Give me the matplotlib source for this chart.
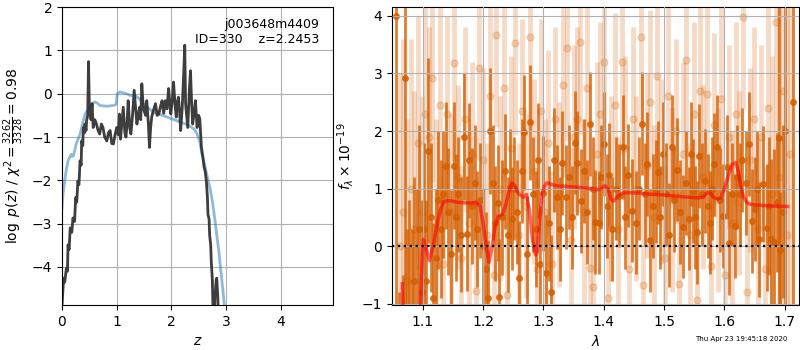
import numpy as np
import matplotlib
matplotlib.use('Agg')
import matplotlib.pyplot as plt

# ---- left panel: log p(z) ----
z_pz = [0.0, 0.02, 0.03, 0.05, 0.08, 0.10, 0.11, 0.13, 0.15, 0.18, 0.20, 0.23, 0.25, 0.27, 0.29, 0.31,
        0.33, 0.35, 0.36, 0.38, 0.39, 0.41, 0.42, 0.44, 0.45, 0.47, 0.485, 0.50, 0.51, 0.53, 0.55, 0.57,
        0.60, 0.63, 0.66, 0.69, 0.72, 0.75, 0.78, 0.82, 0.85, 0.88, 0.91, 0.94, 0.97, 1.00, 1.03, 1.05,
        1.07, 1.10, 1.12, 1.15, 1.17, 1.19, 1.21, 1.24, 1.26, 1.29, 1.32, 1.35, 1.37, 1.40, 1.42, 1.44,
        1.46, 1.48, 1.50, 1.53, 1.55, 1.58, 1.60, 1.62, 1.64, 1.68, 1.71, 1.74, 1.77, 1.80, 1.83, 1.86,
        1.89, 1.92, 1.95, 1.97, 1.99, 2.02, 2.04, 2.07, 2.09, 2.11, 2.13, 2.15, 2.17, 2.20, 2.23, 2.245,
        2.26, 2.28, 2.30, 2.33, 2.35, 2.37, 2.39, 2.42, 2.44, 2.46, 2.47, 2.50, 2.52, 2.54, 2.55, 2.58,
        2.60, 2.62, 2.64, 2.66, 2.67, 2.69, 2.70, 2.72, 2.73, 2.75, 2.76, 2.78, 2.80, 2.82, 2.83, 2.85, 2.86]
log_pz = [-4.9, -4.5, -4.26, -4.35, -4.03, -4.1, -3.49, -3.6, -3.1, -3.2, -2.87, -2.95, -2.4, -2.5, -2.02, -2.1,
          -1.55, -1.65, -1.09, -1.2, -0.78, -0.9, -0.7, -0.85, -0.62, -0.5, 0.74, -0.3, -0.39, -0.6, -0.23, -0.78,
          -0.6, -0.7, -0.85, -0.93, -0.7, -0.78, -1.0, -1.09, -0.9, -0.85, -1.15, -1.16, -0.95, -0.78, -0.95, -0.47,
          -1.05, -0.6, -0.31, -0.9, -1.0, -0.7, -0.16, -0.8, -0.93, -0.5, 0.08, -0.4, -0.7, -0.45, -0.31, -0.6,
          0.23, -0.2, -0.39, -0.5, -0.16, -0.7, -1.24, -0.8, -0.54, -0.35, -0.23, -0.5, -0.47, -0.3, -0.16, -0.45,
          -0.16, -0.35, 0.12, -0.2, -0.47, -0.1, 0.27, -0.3, -0.54, -0.2, -0.08, -0.4, -0.85, -0.3, 0.6, 1.12,
          -0.23, -0.5, -0.78, 0.1, 0.53, -0.2, -0.7, -0.4, -0.16, -0.6, -0.78, -0.5, -0.58, -1.0, -1.24, -1.5,
          -1.7, -1.8, -2.02, -2.4, -2.79, -2.9, -3.26, -3.5, -3.88, -4.3, -4.9, -5.2, -4.65, -4.3, -4.26, -4.7, -5.2]
z_prior = [0.0, 0.02, 0.05, 0.08, 0.11, 0.14, 0.17, 0.19, 0.21, 0.26, 0.33, 0.42, 0.51, 0.56, 0.60, 0.65,
           0.69, 0.75, 0.82, 0.88, 0.94, 0.99, 1.01, 1.03, 1.06, 1.12, 1.18, 1.25, 1.34, 1.40, 1.49, 1.58,
           1.67, 1.80, 1.92, 2.05, 2.17, 2.26, 2.35, 2.42, 2.47, 2.52, 2.56, 2.61, 2.66, 2.71, 2.75, 2.79,
           2.83, 2.87, 2.90, 2.94, 2.97, 3.0]
log_prior = [-2.64, -2.3, -2.0, -1.75, -1.55, -1.47, -1.4, -1.45, -1.43, -1.16, -0.93, -0.47, -0.31, -0.22, -0.19, -0.22,
             -0.27, -0.28, -0.29, -0.28, -0.27, -0.25, 0.0, 0.02, 0.04, 0.02, 0.0, -0.04, -0.04, -0.1, -0.23, -0.33,
             -0.43, -0.48, -0.54, -0.6, -0.66, -0.7, -0.76, -0.82, -0.93, -1.1, -1.4, -1.65, -1.94, -2.2, -2.48, -2.85,
             -3.26, -3.65, -4.03, -4.5, -4.9, -5.3]

# ---- right panel: spectrum ----
# binned
wave_b = [1.056, 1.060, 1.067, 1.070, 1.074, 1.078, 1.082, 1.086, 1.090, 1.094, 1.098, 1.102, 1.106, 1.109, 1.113,
          1.117, 1.122, 1.126, 1.130, 1.134, 1.138, 1.142, 1.146, 1.151, 1.155, 1.159, 1.164, 1.169, 1.174, 1.177, 1.181,
          1.186, 1.190, 1.195, 1.200, 1.204, 1.208, 1.212, 1.216, 1.220, 1.224, 1.227, 1.232, 1.236, 1.241, 1.245, 1.248,
          1.252, 1.256, 1.260, 1.264, 1.268, 1.273, 1.278, 1.282, 1.287, 1.291, 1.295, 1.300, 1.305, 1.309, 1.313, 1.318,
          1.323, 1.327, 1.331, 1.338, 1.343, 1.348, 1.352, 1.356, 1.362, 1.367, 1.372, 1.377, 1.382, 1.386, 1.392, 1.396,
          1.400, 1.405, 1.409, 1.414, 1.420, 1.425, 1.432, 1.436, 1.440, 1.447, 1.454, 1.459, 1.464, 1.468, 1.472, 1.477,
          1.482, 1.486, 1.490, 1.494, 1.498, 1.503, 1.508, 1.513, 1.517, 1.521, 1.526, 1.531, 1.536, 1.541, 1.545, 1.548,
          1.552, 1.555, 1.558, 1.563, 1.568, 1.572, 1.576, 1.580, 1.583, 1.587, 1.592, 1.598, 1.604, 1.607, 1.612, 1.617,
          1.621, 1.626, 1.630, 1.635, 1.640, 1.645, 1.650, 1.654, 1.658, 1.664, 1.670, 1.674, 1.678, 1.683, 1.687, 1.690,
          1.692, 1.697, 1.701, 1.714]
flux_b = [4.0, -2.5, -3.0, 2.92, -1.5, -1.2, -2.0, -0.6, -1.2, 0.3, -0.8, 0.3, -0.6, 1.66, 0.5,
          -0.9, -0.2, 0.8, 0.3, 0.9, 1.4, 0.6, -0.13, 1.4, 0.5, 0.9, 0.2, 1.9, 0.22, 1.49, 0.7,
          1.1, 0.3, 0.8, 0.0, -0.4, -0.9, 2.0, 1.1, 0.4, 0.75, -0.88, 0.5, 1.3, 0.2, 1.03, 0.48,
          1.0, 0.6, -0.56, 1.3, 1.98, -0.13, 2.15, 0.9, 0.3, 1.49, -0.3, 0.92, -0.46, 0.4, -0.8, 1.5,
          0.85, 0.3, 1.45, 0.85, 1.2, 0.5, 1.8, 1.45, 0.78, 1.3, 0.6, 2.12, 1.0, 0.42, 0.41, 1.2,
          1.78, 0.7, 1.24, 0.3, 1.0, 0.88, 1.72, 0.5, 1.23, 0.62, 0.41, 1.0, 2.13, 0.9, 1.43, 0.1,
          0.7, 0.95, 1.28, 0.5, 1.6, 0.9, 0.2, 1.72, 0.8, 1.33, 0.6, 0.34, 1.1, 0.48, 1.6, 0.96,
          0.5, 0.24, 1.57, 0.9, 1.13, 0.7, 0.41, 1.0, 1.42, 1.72, 0.8, 0.52, 1.38, 0.06, 0.9, 0.35,
          1.2, 0.9, 1.5, 1.1, 1.78, 0.44, 0.65, 1.0, 0.12, 1.08, 0.32, 0.7, 0.12, 0.08, 0.76, 1.87,
          -0.06, 0.6, 2.0, 2.5]
err_b = [6.0, 1.7, 2.5, 6.0, 1.8, 2.0, 2.3, 1.8, 2.2, 1.8, 1.6, 1.5, 1.4, 1.6, 1.3,
         1.3, 1.2, 1.2, 1.2, 1.1, 1.1, 1.1, 1.1, 1.1, 1.1, 1.0, 1.0, 1.1, 1.0, 1.0, 1.0,
         1.0, 1.0, 1.0, 1.0, 1.0, 1.0, 1.1, 1.0, 1.0, 1.0, 1.0, 1.0, 1.0, 1.0, 1.0, 0.9,
         0.9, 0.9, 1.0, 0.9, 1.0, 1.0, 1.0, 1.0, 1.0, 1.0, 1.0, 1.0, 1.0, 1.0, 1.0, 0.9,
         0.9, 0.9, 0.9, 0.9, 0.9, 0.9, 0.9, 0.9, 0.9, 0.9, 0.9, 0.9, 0.9, 0.9, 0.9, 0.9,
         0.9, 0.9, 0.9, 0.9, 0.9, 0.9, 0.9, 0.9, 0.9, 0.9, 0.9, 0.9, 0.9, 0.9, 0.9, 0.9,
         0.9, 0.9, 0.9, 0.9, 0.9, 0.9, 0.9, 0.9, 0.9, 0.9, 0.9, 0.9, 0.9, 0.9, 0.9, 0.9,
         0.9, 0.9, 0.9, 0.9, 0.9, 0.9, 0.9, 0.9, 0.9, 0.9, 0.9, 0.9, 0.9, 0.9, 0.9, 0.9,
         0.9, 0.9, 0.9, 0.9, 0.9, 0.9, 0.9, 1.0, 1.0, 1.0, 1.1, 1.2, 1.4, 1.6, 1.2, 6.0,
         1.0, 1.5, 6.0, 6.0]
# unbinned
wave_u = [1.062, 1.068, 1.074, 1.080, 1.086, 1.092, 1.098, 1.104, 1.110, 1.116, 1.122, 1.128, 1.134, 1.140, 1.146, 1.152,
          1.158, 1.164, 1.170, 1.176, 1.182, 1.188, 1.194, 1.200, 1.206, 1.212, 1.218, 1.222, 1.228, 1.234, 1.240, 1.246,
          1.253, 1.259, 1.265, 1.271, 1.278, 1.284, 1.290, 1.296, 1.302, 1.308, 1.314, 1.320, 1.326, 1.332, 1.339, 1.345,
          1.350, 1.355, 1.361, 1.367, 1.373, 1.378, 1.382, 1.388, 1.394, 1.400, 1.407, 1.412, 1.418, 1.424, 1.430, 1.436,
          1.442, 1.448, 1.454, 1.462, 1.465, 1.471, 1.477, 1.483, 1.489, 1.495, 1.501, 1.507, 1.513, 1.519, 1.525, 1.531,
          1.537, 1.543, 1.549, 1.555, 1.559, 1.565, 1.571, 1.577, 1.583, 1.589, 1.595, 1.601, 1.607, 1.613, 1.619, 1.625,
          1.631, 1.637, 1.643, 1.649, 1.655, 1.661, 1.667, 1.673, 1.679, 1.685, 1.691, 1.697, 1.703, 1.709]
flux_u = [0.0, 0.6, -0.6, 1.0, 0.3, 1.8, 0.6, 2.3, 1.9, 2.92, 0.4, 2.45, -0.3, 2.3, 0.6, 3.18,
          1.2, -0.2, 2.2, 0.4, 1.6, -0.78, 3.1, 1.5, 0.2, 2.6, -0.5, 3.67, 1.0, 2.75, -0.85, 1.7,
          3.53, 0.2, 2.35, 0.7, 3.63, 1.3, -0.4, 2.35, 0.6, 1.8, -0.3, 2.2, 0.9, 2.8, 3.44, 0.1,
          1.9, 2.2, 3.55, 0.6, 2.75, -0.38, -0.7, 1.6, 2.3, 3.2, -0.9, 1.0, 2.45, 0.3, 3.2, 1.7,
          -0.4, 2.2, 1.0, 3.64, -0.68, 1.4, 2.5, 0.5, 2.95, 1.3, -0.2, 2.6, 0.8, 2.0, -0.66, 1.6,
          3.23, 0.2, 2.3, -0.94, 2.7, 1.2, 2.65, -0.35, 2.1, 0.8, 2.55, -0.5, 1.9, 0.4, 2.3, 1.1,
          3.98, -0.8, 1.5, 2.2, 0.3, 1.9, -0.4, 2.4, 0.9, 3.9, 1.2, 2.7, 0.2, 1.6]
err_u = [3.0, 3.0, 2.8, 2.6, 2.4, 2.2, 2.0, 2.0, 1.9, 1.8, 1.8, 1.7, 1.7, 1.7, 1.7, 1.7,
         1.6, 1.6, 1.6, 1.6, 1.6, 1.6, 1.6, 1.6, 1.6, 1.6, 1.6, 1.6, 1.6, 1.6, 1.6, 1.6,
         1.6, 1.6, 1.6, 1.6, 1.6, 1.6, 1.6, 1.6, 1.6, 1.6, 1.6, 1.6, 1.6, 1.6, 1.6, 1.6,
         1.6, 1.6, 1.6, 1.6, 1.6, 1.6, 1.6, 1.6, 1.6, 1.6, 1.6, 1.6, 1.6, 1.6, 1.6, 1.6,
         1.6, 1.6, 1.6, 1.6, 1.6, 1.6, 1.6, 1.6, 1.6, 1.6, 1.6, 1.6, 1.6, 1.6, 1.6, 1.6,
         1.6, 1.6, 1.6, 1.6, 1.6, 1.6, 1.6, 1.6, 1.6, 1.6, 1.6, 1.6, 1.6, 1.6, 1.6, 1.6,
         1.6, 1.6, 1.6, 1.6, 1.6, 1.6, 1.8, 2.0, 2.4, 3.0, 3.5, 4.0, 4.5, 5.0]
# model
wave_m = [1.066, 1.068, 1.070, 1.092, 1.095, 1.098, 1.101, 1.106, 1.111, 1.118, 1.125, 1.130, 1.135, 1.145, 1.160, 1.175,
          1.188, 1.195, 1.200, 1.205, 1.210, 1.215, 1.220, 1.225, 1.232, 1.237, 1.243, 1.248, 1.253, 1.258, 1.263, 1.267,
          1.272, 1.277, 1.282, 1.287, 1.290, 1.294, 1.298, 1.302, 1.306, 1.312, 1.320, 1.335, 1.350, 1.370, 1.390, 1.396,
          1.402, 1.407, 1.412, 1.416, 1.422, 1.430, 1.440, 1.460, 1.480, 1.500, 1.520, 1.540, 1.555, 1.565, 1.572, 1.577,
          1.582, 1.588, 1.594, 1.600, 1.607, 1.613, 1.619, 1.623, 1.627, 1.632, 1.637, 1.642, 1.650, 1.660, 1.675, 1.690, 1.705]
flux_m = [-0.65, -1.6, -3.0, -3.0, -1.4, -0.5, 0.12, -0.05, -0.25, 0.05, 0.45, 0.65, 0.78, 0.79, 0.76, 0.75,
          0.76, 0.7, 0.4, 0.0, -0.28, 0.0, 0.35, 0.52, 0.55, 0.7, 0.95, 1.1, 1.05, 0.92, 0.88, 0.85,
          0.9, 0.6, 0.1, -0.15, -0.1, 0.5, 0.9, 1.05, 1.1, 1.08, 1.05, 1.04, 1.03, 1.01, 0.98, 1.0,
          1.05, 1.0, 0.82, 0.78, 0.85, 0.92, 0.93, 0.92, 0.9, 0.89, 0.87, 0.85, 0.84, 0.85, 0.93, 0.92,
          0.85, 0.82, 0.84, 1.0, 1.25, 1.42, 1.45, 1.3, 1.05, 0.85, 0.76, 0.73, 0.72, 0.71, 0.7, 0.69, 0.69]

orange = (0.835, 0.369, 0.0)

fig = plt.figure(figsize=(8, 3.5), dpi=100)

ax1 = fig.add_axes([0.0775, 0.1286, 0.339, 0.851])
ax1.plot(z_prior, log_prior, color='tab:blue', alpha=0.5, lw=2)
ax1.plot(z_pz, log_pz, color='0.2', alpha=0.95, lw=2)
ax1.set_xlim(0, 4.96)
ax1.set_ylim(-4.88, 2)
ax1.set_xticks([0, 1, 2, 3, 4])
ax1.set_yticks([-4, -3, -2, -1, 0, 1, 2])
ax1.grid()
ax1.set_xlabel(r'$z$')
ax1.set_ylabel(r'$\log\ p(z)$' + ' / ' + r'$\chi^2=\frac{3262}{3328}=0.98$')
ax1.text(0.95, 0.965, 'j003648m4409\nID=330    z=2.2453', transform=ax1.transAxes,
         ha='right', va='top', fontsize=9)

ax2 = fig.add_axes([0.49, 0.1286, 0.509, 0.851])
ax2.errorbar(wave_u, flux_u, yerr=err_u, color=orange, alpha=0.22, marker='o', ms=5,
             linestyle='None', elinewidth=3.5, capsize=0)
ax2.errorbar(wave_b, flux_b, yerr=err_b, color=orange, alpha=0.8, marker='o', ms=4,
             linestyle='None', elinewidth=2, capsize=0)
ax2.plot(wave_m, flux_m, color='r', alpha=0.6, lw=2.5, zorder=9)
ax2.plot([1.049, 1.724], [0, 0], 'k:', lw=1.6, zorder=10)
ax2.set_xlim(1.049, 1.724)
ax2.set_ylim(-1.02, 4.15)
ax2.set_xticks([1.1, 1.2, 1.3, 1.4, 1.5, 1.6, 1.7])
ax2.set_yticks([-1, 0, 1, 2, 3, 4])
ax2.set_axisbelow(False)
ax2.grid()
ax2.set_xlabel(r'$\lambda$')
ax2.set_ylabel(r'$f_\lambda\times10^{-19}$')

fig.text(0.984, 0.022, 'Thu Apr 23 19:45:18 2020', ha='right', va='bottom', fontsize=5)

fig.savefig('out.png', dpi=100)
